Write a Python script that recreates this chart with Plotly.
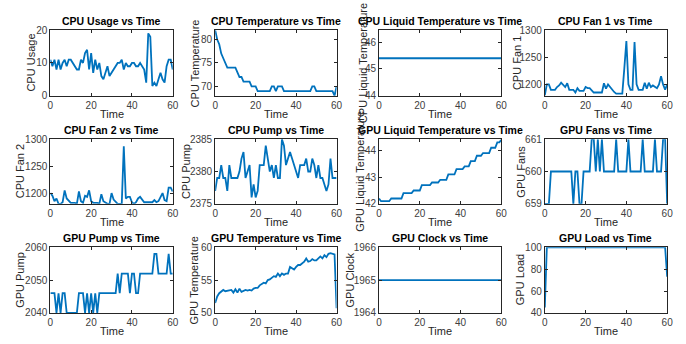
import plotly.graph_objects as go

time = list(range(61))

cpu_usage = [11, 9, 11, 8, 11, 8, 10, 11, 9, 11, 11, 10, 9, 8, 8, 11, 10, 13, 14, 8,
             13, 7, 11, 8, 10, 6, 5, 7, 9, 6, 7, 8, 9, 10, 10, 11, 8, 10, 9, 9,
             10, 10, 9, 9, 10, 9, 8, 4, 19, 18, 3, 4, 3, 5, 7, 5, 4, 9, 11, 11, 8]
cpu_temp = [82, 80, 79, 77, 76, 75, 74, 74, 74, 74, 74, 73, 72, 72, 71, 71, 71, 71, 70, 70,
            70, 69, 69, 69, 69, 69, 69, 69, 70, 70, 69, 70, 70, 70, 69, 69, 69, 69, 69, 69,
            69, 69, 69, 69, 69, 69, 69, 69, 70, 70, 69, 69, 69, 69, 69, 69, 69, 69, 69, 68, 70]
cpu_liquid = [45.4] * 61
cpu_fan1 = [1180, 1200, 1200, 1190, 1190, 1190, 1195, 1198, 1203, 1198, 1195, 1202, 1190, 1190, 1190, 1185, 1193, 1188, 1188, 1188,
            1195, 1193, 1193, 1188, 1185, 1185, 1185, 1185, 1185, 1202, 1192, 1200, 1195, 1190, 1186, 1183, 1183, 1183, 1183, 1230,
            1280, 1200, 1190, 1190, 1278, 1200, 1190, 1190, 1190, 1203, 1192, 1203, 1195, 1198, 1195, 1193, 1200, 1215, 1200, 1190, 1200]
cpu_fan2 = [1200, 1195, 1185, 1190, 1180, 1180, 1183, 1205, 1190, 1185, 1182, 1182, 1182, 1180, 1203, 1185, 1182, 1195, 1193, 1205,
            1185, 1182, 1182, 1182, 1180, 1198, 1185, 1183, 1180, 1180, 1200, 1188, 1183, 1180, 1180, 1180, 1287, 1190, 1193, 1193,
            1183, 1180, 1183, 1190, 1193, 1188, 1183, 1183, 1183, 1183, 1183, 1187, 1183, 1185, 1193, 1200, 1187, 1185, 1210, 1210, 1203]
cpu_pump = [2377, 2379, 2379, 2381, 2379, 2379, 2377, 2381, 2379, 2379, 2379, 2379, 2380, 2382, 2383, 2379, 2380, 2381, 2376, 2378,
            2376, 2377, 2381, 2381, 2381, 2384, 2382, 2380, 2381, 2379, 2381, 2379, 2379, 2385, 2384, 2381, 2382, 2383, 2382, 2381,
            2380, 2379, 2381, 2381, 2381, 2382, 2380, 2380, 2382, 2381, 2379, 2381, 2379, 2379, 2378, 2377, 2378, 2382, 2379, 2379, 2379]
gpu_liquid = [42.2, 42.1, 42.1, 42.1, 42.1, 42.1, 42.2, 42.2, 42.2, 42.2, 42.2, 42.2, 42.4, 42.4, 42.4, 42.4, 42.4, 42.5, 42.5, 42.5,
              42.5, 42.7, 42.7, 42.7, 42.7, 42.7, 42.8, 42.8, 42.8, 42.8, 42.9, 42.9, 42.9, 42.9, 43.1, 43.1, 43.1, 43.1, 43.3, 43.3,
              43.3, 43.3, 43.4, 43.4, 43.4, 43.6, 43.6, 43.6, 43.8, 43.8, 43.8, 43.9, 43.9, 43.9, 43.9, 44.1, 44.1, 44.1, 44.3, 44.3, 44.4]
gpu_fans = [659, 659, 659, 660, 660, 660, 660, 660, 660, 660, 660, 660, 660, 660, 659, 660, 660, 659, 659, 660,
            660, 660, 660, 661, 661, 660, 661, 660, 661, 660, 660, 660, 660, 660, 660, 661, 660, 660, 660, 660,
            660, 661, 660, 660, 660, 660, 660, 660, 661, 660, 660, 660, 660, 660, 661, 660, 660, 660, 661, 661, 659]
gpu_pump = [2046, 2046, 2046, 2040, 2046, 2040, 2046, 2046, 2040, 2040, 2040, 2040, 2040, 2040, 2046, 2046, 2046, 2040, 2046, 2040,
            2046, 2040, 2046, 2040, 2046, 2046, 2046, 2046, 2046, 2046, 2046, 2046, 2046, 2052, 2046, 2052, 2052, 2052, 2052, 2046,
            2052, 2052, 2046, 2046, 2052, 2052, 2052, 2052, 2052, 2052, 2052, 2058, 2058, 2052, 2052, 2052, 2052, 2052, 2058, 2052, 2052]
gpu_temp = [51.5, 52.5, 53, 53.3, 53.5, 53.3, 53.4, 53.5, 53.5, 53.1, 53.6, 53.1, 53.7, 53.2, 53.4, 53.5, 53.4, 53.5, 53.4, 53.7,
            53.8, 53.8, 54.2, 54.4, 54.6, 54.5, 55, 55.1, 55.3, 55.6, 55.5, 56, 55.6, 56, 55.8, 56, 56, 57, 56.8, 56.6,
            57, 57.3, 57.3, 57.6, 57.8, 58.3, 57.8, 57.9, 58.2, 58, 58, 58.3, 58.6, 58.3, 58.8, 58.5, 59, 59.1, 59, 58.9, 50.7]
gpu_clock = [1965] * 61
gpu_load = [45] + [100] * 59 + [73]

names = ["CPU Usage", "CPU Temperature", "CPU Liquid Temperature", "CPU Fan 1",
         "CPU Fan 2", "CPU Pump", "GPU Liquid Temperature", "GPU Fans",
         "GPU Pump", "GPU Temperature", "GPU Clock", "GPU Load"]
series = [cpu_usage, cpu_temp, cpu_liquid, cpu_fan1, cpu_fan2, cpu_pump,
          gpu_liquid, gpu_fans, gpu_pump, gpu_temp, gpu_clock, gpu_load]
yranges = [[0, 20], [68, 82], [44, 46.45], [1179, 1300],
           [1180, 1300], [2375, 2385], [42.0, 44.42], [659, 661],
           [2040, 2060], [50, 60], [1964, 1966], [40, 100]]
ytickvals = [[0, 10, 20], [70, 75, 80], [44, 45, 46], [1200, 1250, 1300],
             [1200, 1250, 1300], [2375, 2380, 2385], [42, 43, 44], [659, 660, 661],
             [2040, 2050, 2060], [50, 55, 60], [1964, 1965, 1966], [40, 60, 80, 100]]

W, H = 686, 344
col_l = [48, 215, 381, 549]
col_r = [172, 338, 505, 673]
row_t = [25, 138, 250]
row_b = [93, 205, 318]
ylab_x = [28, 195, 365, 521, 17, 185, 361, 524, 17, 194, 352, 524]

fig = go.Figure()
font = "Liberation Sans, Arial, sans-serif"
axcol = "#262626"
tickcol = "#404040"
for i in range(12):
    r, c = divmod(i, 4)
    n = i + 1
    xa = "x" if n == 1 else f"x{n}"
    ya = "y" if n == 1 else f"y{n}"
    fig.add_trace(go.Scatter(x=time, y=series[i], mode="lines",
                             line=dict(color="#0072BD", width=1.8),
                             xaxis=xa, yaxis=ya, showlegend=False))
    xd = [col_l[c] / W, col_r[c] / W]
    yd = [1 - row_b[r] / H, 1 - row_t[r] / H]
    common = dict(showline=True, linecolor=axcol, linewidth=1, mirror="ticks",
                  ticks="inside", ticklen=3, tickcolor=axcol, showgrid=False,
                  zeroline=False, tickfont=dict(family=font, size=10, color=tickcol))
    fig.layout[f"xaxis{'' if n == 1 else n}"] = dict(
        domain=xd, anchor=ya, range=[0, 60], tickvals=[0, 20, 40, 60], **common)
    fig.layout[f"yaxis{'' if n == 1 else n}"] = dict(
        domain=yd, anchor=xa, range=yranges[i], tickvals=ytickvals[i], **common)
    # title
    fig.add_annotation(text=f"<b>{names[i]} vs Time</b>", xref="paper", yref="paper",
                       x=(xd[0] + xd[1]) / 2, y=yd[1], yanchor="bottom", xanchor="center",
                       showarrow=False, yshift=1,
                       font=dict(family=font, size=10.5, color="black"))
    # x label
    fig.add_annotation(text="Time", xref="paper", yref="paper",
                       x=(xd[0] + xd[1]) / 2, y=1 - (row_b[r] + 19) / H,
                       yanchor="middle", xanchor="center", showarrow=False,
                       font=dict(family=font, size=11, color=axcol))
    # y label
    fig.add_annotation(text=names[i], xref="paper", yref="paper",
                       x=ylab_x[i] / W, y=(yd[0] + yd[1]) / 2,
                       yanchor="middle", xanchor="center", showarrow=False, textangle=-90,
                       font=dict(family=font, size=11, color=axcol))

fig.update_layout(width=W, height=H, margin=dict(l=0, r=0, t=0, b=0),
                  plot_bgcolor="white", paper_bgcolor="white")
fig.write_html("out.html", config={"displayModeBar": False},
               post_script="document.body.style.margin='0';document.body.style.overflow='hidden';")
